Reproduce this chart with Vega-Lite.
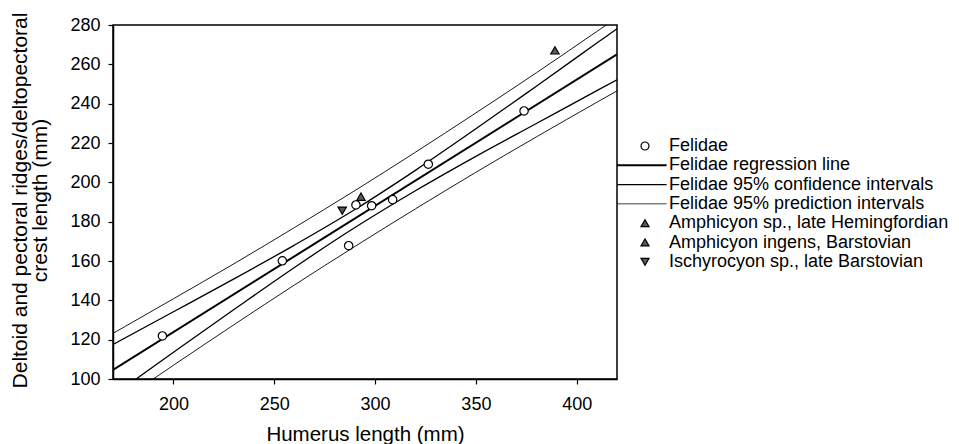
{
  "$schema": "https://vega.github.io/schema/vega-lite/v6.json",
  "width": 504,
  "height": 354,
  "autosize": {"type": "none"},
  "padding": {"left": 113, "top": 25, "right": 342, "bottom": 65},
  "background": "white",
  "config": {
    "font": "Liberation Sans",
    "view": {"stroke": "black", "strokeWidth": 1.5},
    "axis": {
      "grid": false,
      "domainColor": "black",
      "domainWidth": 1.5,
      "tickColor": "black",
      "tickWidth": 1.2,
      "tickSize": 5,
      "labelColor": "black",
      "labelFont": "Liberation Sans",
      "labelFontSize": 18,
      "titleFont": "Liberation Sans",
      "titleFontSize": 20.5,
      "titleFontWeight": "normal",
      "titleColor": "black"
    }
  },
  "datasets": {
    "points": [
      {"series": "Felidae", "x": 194.5, "y": 121.9},
      {"series": "Felidae", "x": 254.0, "y": 160.1},
      {"series": "Felidae", "x": 286.9, "y": 167.8},
      {"series": "Felidae", "x": 290.5, "y": 188.5},
      {"series": "Felidae", "x": 298.3, "y": 188.1},
      {"series": "Felidae", "x": 308.7, "y": 191.2},
      {"series": "Felidae", "x": 326.4, "y": 209.2},
      {"series": "Felidae", "x": 373.9, "y": 236.3},
      {"series": "Amphicyon sp., late Hemingfordian", "x": 293.0, "y": 192.7},
      {"series": "Amphicyon ingens, Barstovian", "x": 389.2, "y": 267.1},
      {"series": "Ischyrocyon sp., late Barstovian", "x": 283.7, "y": 185.6}
    ],
    "curves": [
      {"curve": "reg", "side": "mid", "x": 170, "y": 104.6},
      {"curve": "reg", "side": "mid", "x": 420, "y": 265.1},
      {"curve": "PI", "side": "upper", "x": 170, "y": 123.2},
      {"curve": "PI", "side": "upper", "x": 200, "y": 140.8},
      {"curve": "PI", "side": "upper", "x": 230, "y": 158.6},
      {"curve": "PI", "side": "upper", "x": 260, "y": 177.0},
      {"curve": "PI", "side": "upper", "x": 290, "y": 195.8},
      {"curve": "PI", "side": "upper", "x": 320, "y": 215.3},
      {"curve": "PI", "side": "upper", "x": 350, "y": 235.3},
      {"curve": "PI", "side": "upper", "x": 380, "y": 255.7},
      {"curve": "PI", "side": "upper", "x": 410, "y": 276.7},
      {"curve": "PI", "side": "upper", "x": 420, "y": 283.7},
      {"curve": "PI", "side": "lower", "x": 170, "y": 86.0},
      {"curve": "PI", "side": "lower", "x": 200, "y": 107.0},
      {"curve": "PI", "side": "lower", "x": 230, "y": 127.6},
      {"curve": "PI", "side": "lower", "x": 260, "y": 147.8},
      {"curve": "PI", "side": "lower", "x": 290, "y": 167.4},
      {"curve": "PI", "side": "lower", "x": 320, "y": 186.5},
      {"curve": "PI", "side": "lower", "x": 350, "y": 205.1},
      {"curve": "PI", "side": "lower", "x": 380, "y": 223.1},
      {"curve": "PI", "side": "lower", "x": 410, "y": 240.7},
      {"curve": "PI", "side": "lower", "x": 420, "y": 246.5},
      {"curve": "CI", "side": "upper", "x": 170, "y": 117.6},
      {"curve": "CI", "side": "upper", "x": 200, "y": 134.2},
      {"curve": "CI", "side": "upper", "x": 230, "y": 150.9},
      {"curve": "CI", "side": "upper", "x": 260, "y": 168.1},
      {"curve": "CI", "side": "upper", "x": 290, "y": 186.2},
      {"curve": "CI", "side": "upper", "x": 320, "y": 206.1},
      {"curve": "CI", "side": "upper", "x": 350, "y": 227.2},
      {"curve": "CI", "side": "upper", "x": 380, "y": 248.9},
      {"curve": "CI", "side": "upper", "x": 410, "y": 270.8},
      {"curve": "CI", "side": "upper", "x": 420, "y": 278.1},
      {"curve": "CI", "side": "lower", "x": 170, "y": 91.6},
      {"curve": "CI", "side": "lower", "x": 200, "y": 113.6},
      {"curve": "CI", "side": "lower", "x": 230, "y": 135.3},
      {"curve": "CI", "side": "lower", "x": 260, "y": 156.7},
      {"curve": "CI", "side": "lower", "x": 290, "y": 177.0},
      {"curve": "CI", "side": "lower", "x": 320, "y": 195.7},
      {"curve": "CI", "side": "lower", "x": 350, "y": 213.2},
      {"curve": "CI", "side": "lower", "x": 380, "y": 229.9},
      {"curve": "CI", "side": "lower", "x": 410, "y": 246.6},
      {"curve": "CI", "side": "lower", "x": 420, "y": 252.1}
    ]
  },
  "encoding": {
    "x": {
      "field": "x",
      "type": "quantitative",
      "scale": {"domain": [170, 420], "nice": false, "zero": false},
      "axis": {
        "values": [200, 250, 300, 350, 400],
        "title": "Humerus length (mm)",
        "labelPadding": 11.5,
        "titleBaseline": "alphabetic",
        "titleY": 61
      }
    },
    "y": {
      "field": "y",
      "type": "quantitative",
      "scale": {"domain": [100, 280], "nice": false, "zero": false},
      "axis": {
        "values": [100, 120, 140, 160, 180, 200, 220, 240, 260, 280],
        "title": ["Deltoid and pectoral ridges/deltopectoral", "crest length (mm)"],
        "labelPadding": 8,
        "titleFontSize": 21,
        "titleAngle": -90,
        "titleAlign": "center",
        "titleBaseline": "alphabetic",
        "titleX": -87,
        "titleY": 175,
        "titleLineHeight": 20
      }
    }
  },
  "layer": [
    {
      "data": {"name": "curves"},
      "transform": [{"filter": "datum.curve === 'PI'"}],
      "mark": {"type": "line", "color": "black", "strokeWidth": 0.9, "clip": true, "interpolate": "monotone"},
      "encoding": {"detail": {"field": "side", "type": "nominal"}}
    },
    {
      "data": {"name": "curves"},
      "transform": [{"filter": "datum.curve === 'CI'"}],
      "mark": {"type": "line", "color": "black", "strokeWidth": 1.3, "clip": true, "interpolate": "monotone"},
      "encoding": {"detail": {"field": "side", "type": "nominal"}}
    },
    {
      "data": {"name": "curves"},
      "transform": [{"filter": "datum.curve === 'reg'"}],
      "mark": {"type": "line", "color": "black", "strokeWidth": 2, "clip": true},
      "encoding": {}
    },
    {
      "data": {"name": "points"},
      "mark": {"type": "point", "size": 70, "opacity": 1, "strokeWidth": 1.2, "clip": true},
      "encoding": {
        "shape": {
          "field": "series",
          "type": "nominal",
          "scale": {
            "domain": ["Felidae", "Felidae regression line", "Felidae 95% confidence intervals", "Felidae 95% prediction intervals", "Amphicyon sp., late Hemingfordian", "Amphicyon ingens, Barstovian", "Ischyrocyon sp., late Barstovian"],
            "range": ["circle", "M-7,-0.25H5.4V0.25H-7Z", "M-7,-0.16H5.4V0.16H-7Z", "M-7,-0.1H5.4V0.1H-7Z", "triangle-up", "triangle-up", "triangle-down"]
          },
          "legend": {"title": null, "orient": "none", "legendX": 523, "legendY": 112, "padding": 0, "labelFontSize": 18, "labelFont": "Liberation Sans", "labelColor": "black", "labelOffset": 15, "labelLimit": 400, "symbolSize": 64, "symbolStrokeWidth": 1.2, "rowPadding": 1.3}
        },
        "fill": {
          "field": "series",
          "type": "nominal",
          "scale": {
            "domain": ["Felidae", "Felidae regression line", "Felidae 95% confidence intervals", "Felidae 95% prediction intervals", "Amphicyon sp., late Hemingfordian", "Amphicyon ingens, Barstovian", "Ischyrocyon sp., late Barstovian"],
            "range": ["white", "black", "black", "black", "#5a5a5a", "#5a5a5a", "#5a5a5a"]
          },
          "legend": {"title": null, "orient": "none", "legendX": 523, "legendY": 112, "padding": 0, "labelFontSize": 18, "labelFont": "Liberation Sans", "labelColor": "black", "labelOffset": 15, "labelLimit": 400, "symbolSize": 64, "symbolStrokeWidth": 1.2, "rowPadding": 1.3}
        },
        "stroke": {
          "field": "series",
          "type": "nominal",
          "scale": {
            "domain": ["Felidae", "Felidae regression line", "Felidae 95% confidence intervals", "Felidae 95% prediction intervals", "Amphicyon sp., late Hemingfordian", "Amphicyon ingens, Barstovian", "Ischyrocyon sp., late Barstovian"],
            "range": ["black", "transparent", "transparent", "transparent", "black", "black", "black"]
          },
          "legend": {"title": null, "orient": "none", "legendX": 523, "legendY": 112, "padding": 0, "labelFontSize": 18, "labelFont": "Liberation Sans", "labelColor": "black", "labelOffset": 15, "labelLimit": 400, "symbolSize": 64, "symbolStrokeWidth": 1.2, "rowPadding": 1.3}
        }
      }
    }
  ]
}
